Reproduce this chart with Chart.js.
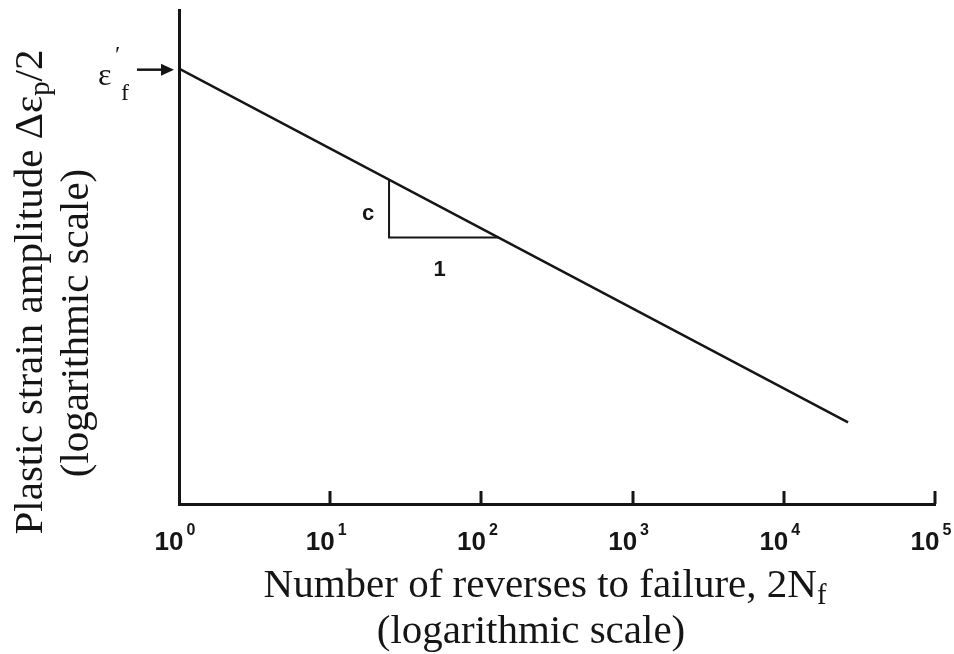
<!DOCTYPE html>
<html lang="en">
<head>
    <meta charset="UTF-8">
    <title>Plastic strain amplitude vs reversals</title>
    <script src="https://cdn.jsdelivr.net/npm/chart.js@4.4.1/dist/chart.umd.min.js"></script>
    <style>
        * { margin: 0; padding: 0; box-sizing: border-box; }
        body { background: #fff; width: 954px; height: 654px; overflow: hidden; }
        .wrap { position: relative; width: 954px; height: 654px; }
        canvas { position: absolute; left: 0; top: 0; }
        .title {
            position: absolute;
            font-family: "Liberation Serif", "Times New Roman", serif;
            color: #151515;
            white-space: nowrap;
            line-height: 1;
            transform: translate(-50%, -50%);
        }
        .title sub { font-size: 0.7em; vertical-align: -0.25em; line-height: 0; }
        .rot { transform: translate(-50%, -50%) rotate(-90deg); }
        .eps {
            position: absolute;
            font-family: "Liberation Serif", "Times New Roman", serif;
            color: #151515;
            line-height: 1;
        }
    </style>
</head>
<body>
<div class="wrap">
    <canvas id="chart" width="954" height="654"></canvas>

    <div class="title rot" style="left:28px; top:292px; font-size:41px;">Plastic strain amplitude &Delta;&epsilon;<sub>p</sub>/2</div>
    <div class="title rot" style="left:74px; top:323px; font-size:41px;">(logarithmic scale)</div>

    <div class="title" style="left:545px; top:583px; font-size:41px;">Number of reverses to failure, 2N<sub>f</sub></div>
    <div class="title" style="left:531px; top:629px; font-size:41px;">(logarithmic scale)</div>

    <div class="eps" style="left:98px; top:58px; font-size:32px;">&epsilon;</div>
    <div class="eps" style="left:115px; top:42px; font-size:24px;">&prime;</div>
    <div class="eps" style="left:121px; top:80px; font-size:24px;">f</div>
</div>

<script>
    // axis ranges
    const xRange = [1, 100000];
    const yRange = [0.00055, 1];

    // decade ticks on the x axis
    const xTickValues = [1, 10, 100, 1000, 10000, 100000];
    const xTickExponents = ['0', '1', '2', '3', '4', '5'];

    // Coffin-Manson line (plastic part)
    const lineX = [1, 26600];
    const lineY = [0.41, 0.0019];

    // slope triangle
    const triX = [24.5, 24.5, 130.7];
    const triY = [0.076, 0.0315, 0.0315];

    // labels next to the triangle
    const noteText = ['c', '1'];
    const noteX = [17.8, 53];
    const noteY = [0.0454, 0.0194];

    // fatigue ductility coefficient marker
    const epsF = lineY[0];

    const ink = '#151515';

    const toPoints = (xs, ys) => xs.map((x, i) => ({ x: x, y: ys[i] }));

    const extras = {
        id: 'extras',
        afterDraw(chart) {
            const ctx = chart.ctx;
            const xs = chart.scales.x;
            const ys = chart.scales.y;
            const bottom = chart.chartArea.bottom;
            const left = chart.chartArea.left;

            ctx.save();
            ctx.strokeStyle = ink;
            ctx.fillStyle = ink;

            // tick marks pointing up into the plot
            ctx.lineWidth = 3;
            xTickValues.forEach((v, i) => {
                if (i === 0) return;
                const px = Math.round(xs.getPixelForValue(v));
                ctx.beginPath();
                ctx.moveTo(px, bottom);
                ctx.lineTo(px, bottom - 13);
                ctx.stroke();
            });

            // tick labels 10^n
            const baseFont = 'bold 26px "Liberation Sans", Arial, sans-serif';
            const expFont = 'bold 16px "Liberation Sans", Arial, sans-serif';
            ctx.textBaseline = 'alphabetic';
            ctx.textAlign = 'left';
            xTickValues.forEach((v, i) => {
                const px = xs.getPixelForValue(v);
                ctx.font = baseFont;
                const wBase = ctx.measureText('10').width;
                ctx.font = expFont;
                const wExp = ctx.measureText(xTickExponents[i]).width;
                const start = px - (wBase + 3 + wExp) / 2 - 4;
                ctx.font = baseFont;
                ctx.fillText('10', start, bottom + 46);
                ctx.font = expFont;
                ctx.fillText(xTickExponents[i], start + wBase + 3, bottom + 31);
            });

            // c and 1 by the triangle
            ctx.font = 'bold 22px "Liberation Sans", Arial, sans-serif';
            ctx.textAlign = 'center';
            ctx.textBaseline = 'middle';
            noteText.forEach((t, i) => {
                ctx.fillText(t, xs.getPixelForValue(noteX[i]), ys.getPixelForValue(noteY[i]));
            });

            // arrow pointing at eps_f'
            const ay = ys.getPixelForValue(epsF) + 1;
            ctx.lineWidth = 2.5;
            ctx.beginPath();
            ctx.moveTo(left - 42, ay);
            ctx.lineTo(left - 14, ay);
            ctx.stroke();
            ctx.beginPath();
            ctx.moveTo(left - 5, ay);
            ctx.lineTo(left - 18, ay - 6);
            ctx.lineTo(left - 18, ay + 6);
            ctx.closePath();
            ctx.fill();

            ctx.restore();
        }
    };

    new Chart(document.getElementById('chart'), {
        type: 'line',
        data: {
            datasets: [
                {
                    data: toPoints(lineX, lineY),
                    borderColor: ink,
                    borderWidth: 2.5,
                    pointRadius: 0,
                    fill: false
                },
                {
                    data: toPoints(triX, triY),
                    borderColor: ink,
                    borderWidth: 2,
                    pointRadius: 0,
                    fill: false
                }
            ]
        },
        options: {
            responsive: false,
            animation: false,
            layout: {
                padding: { left: 171, top: 10, right: 19, bottom: 142 }
            },
            scales: {
                x: {
                    type: 'logarithmic',
                    min: xRange[0],
                    max: xRange[1],
                    grid: { display: false },
                    ticks: { display: false },
                    border: { display: true, width: 3, color: ink }
                },
                y: {
                    type: 'logarithmic',
                    min: yRange[0],
                    max: yRange[1],
                    grid: { display: false },
                    ticks: { display: false },
                    border: { display: true, width: 3, color: ink }
                }
            },
            plugins: {
                legend: { display: false },
                tooltip: { enabled: false }
            }
        },
        plugins: [extras]
    });
</script>
</body>
</html>
